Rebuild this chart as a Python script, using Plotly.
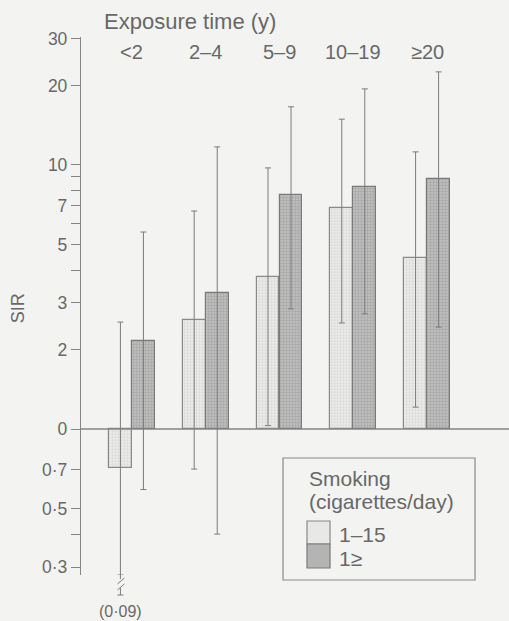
import math
import plotly.graph_objects as go

# ---------------- data ----------------
categories = ["<2", "2–4", "5–9", "10–19", "≥20"]
series_names = ["1–15", "1≥"]

sir_light = [0.71, 2.59, 3.77, 6.87, 4.44]
upper_light = [2.54, 6.69, 9.74, 14.9, 11.2]
lower_light = [0.09, 0.705, 1.03, 2.52, 1.21]

sir_dark = [2.15, 3.27, 7.7, 8.26, 8.85]
upper_dark = [5.57, 11.7, 16.6, 19.4, 22.5]
lower_dark = [0.59, 0.40, 2.85, 2.73, 2.43]

ytick_vals = [0.3, 0.4, 0.5, 0.7, 1, 2, 3, 4, 5, 6, 7, 8, 9, 10, 20, 30]
ytick_text = ["0·3", "", "0·5", "0·7", "0", "2", "3", "", "5", "", "7", "", "", "10", "20", "30"]

# ---------------- styling ----------------
BG = "#f3f3f1"
TXT = "#686868"
AX = "#858585"
FONT = "Liberation Sans, Arial, sans-serif"
Y_MIN, Y_MAX = 0.28, 30.5
X_MIN, X_MAX = -0.69, 5.11
OFF = 0.156
BW = 0.31

n = len(categories)
x_light = [i - OFF for i in range(n)]
x_dark = [i + OFF for i in range(n)]

light_fill = dict(color="#e6e6e4", line=dict(color="#8a8a8a", width=1.2),
                  pattern=dict(shape=".", fgcolor="#c9c9c7", bgcolor="#ececea", size=3, solidity=0.45))
dark_fill = dict(color="#b0b0b0", line=dict(color="#7a7a7a", width=1.2),
                 pattern=dict(shape=".", fgcolor="#8e8e8e", bgcolor="#c2c2c2", size=3, solidity=0.5))

fig = go.Figure()

# baseline at SIR = 1
fig.add_trace(go.Scatter(x=[X_MIN, X_MAX], y=[1, 1], mode="lines",
                         line=dict(color=AX, width=1.3), hoverinfo="skip", showlegend=False))

fig.add_trace(go.Bar(x=x_light, y=[v - 1 for v in sir_light], base=1, width=BW,
                     marker=light_fill, name=series_names[0], showlegend=False))
fig.add_trace(go.Bar(x=x_dark, y=[v - 1 for v in sir_dark], base=1, width=BW,
                     marker=dark_fill, name=series_names[1], showlegend=False))


def err_trace(xs, vals, ups, lows):
    lows_disp = [max(lo, Y_MIN) for lo in lows]
    return go.Scatter(
        x=xs, y=vals, mode="markers",
        marker=dict(size=1, color="rgba(0,0,0,0)"),
        error_y=dict(type="data", symmetric=False,
                     array=[u - v for u, v in zip(ups, vals)],
                     arrayminus=[v - lo for v, lo in zip(vals, lows_disp)],
                     color="#7c7c7c", thickness=1, width=3),
        hoverinfo="skip", showlegend=False, cliponaxis=True)


fig.add_trace(err_trace(x_light, sir_light, upper_light, lower_light))
fig.add_trace(err_trace(x_dark, sir_dark, upper_dark, lower_dark))

shapes = []
annotations = []

# broken error bar tail below the axis (values under the axis minimum)
for xs, lows in ((x_light, lower_light), (x_dark, lower_dark)):
    for xv, lo in zip(xs, lows):
        if lo < Y_MIN:
            common = dict(type="line", xref="x", yref="paper", xsizemode="pixel", ysizemode="pixel",
                          xanchor=xv, yanchor=0, line=dict(color="#7c7c7c", width=1))
            shapes.append(dict(common, x0=0, x1=0, y0=0, y1=-4))
            shapes.append(dict(common, x0=-3, x1=4, y0=-9, y1=-3))
            shapes.append(dict(common, x0=-3, x1=4, y0=-15, y1=-9))
            shapes.append(dict(common, x0=0, x1=0, y0=-13, y1=-20))
            shapes.append(dict(common, x0=-3, x1=3, y0=-20, y1=-20))
            annotations.append(dict(x=xv, xref="x", y=-0.068, yref="paper",
                                    text="(" + f"{lo:.2f}".replace(".", "·") + ")",
                                    showarrow=False, font=dict(size=16, color=TXT, family=FONT),
                                    xanchor="center", yanchor="middle"))

# category labels along the top
for i, c in enumerate(categories):
    annotations.append(dict(x=i, xref="x", y=0.972, yref="paper", text=c, showarrow=False,
                            font=dict(size=20, color=TXT, family=FONT), xanchor="center", yanchor="middle"))

annotations.append(dict(x=0.255, xref="paper", y=1.028, yref="paper", text="Exposure time (y)",
                        showarrow=False, font=dict(size=22, color=TXT, family=FONT),
                        xanchor="center", yanchor="middle"))
annotations.append(dict(x=-0.147, xref="paper", y=0.496, yref="paper", text="SIR", textangle=-90,
                        showarrow=False, font=dict(size=18, color=TXT, family=FONT),
                        xanchor="center", yanchor="middle"))

# legend (drawn by hand to mimic the boxed key)
shapes.append(dict(type="rect", xref="paper", yref="paper", x0=0.472, x1=0.9206, y0=-0.0093, y1=0.2175,
                   line=dict(color="#8a8a8a", width=1.2), fillcolor=BG, layer="above"))
shapes.append(dict(type="rect", xref="paper", yref="paper", x0=0.528, x1=0.5818, y0=0.0576, y1=0.1004,
                   line=dict(color="#8a8a8a", width=1.2), fillcolor="#e8e8e6", layer="above"))
shapes.append(dict(type="rect", xref="paper", yref="paper", x0=0.528, x1=0.5818, y0=0.0130, y1=0.0576,
                   line=dict(color="#7a7a7a", width=1.2), fillcolor="#b4b4b4", layer="above"))
leg_font = dict(size=21, color=TXT, family=FONT)
annotations.append(dict(x=0.528, xref="paper", y=0.1785, yref="paper", text="Smoking",
                        showarrow=False, font=leg_font, xanchor="left", yanchor="middle"))
annotations.append(dict(x=0.528, xref="paper", y=0.137, yref="paper", text="(cigarettes/day)",
                        showarrow=False, font=leg_font, xanchor="left", yanchor="middle"))
annotations.append(dict(x=0.598, xref="paper", y=0.076, yref="paper", text=series_names[0],
                        showarrow=False, font=leg_font, xanchor="left", yanchor="middle"))
annotations.append(dict(x=0.598, xref="paper", y=0.031, yref="paper", text=series_names[1],
                        showarrow=False, font=leg_font, xanchor="left", yanchor="middle"))

fig.update_layout(
    width=509, height=621,
    margin=dict(l=81, r=0, t=37, b=46),
    paper_bgcolor=BG, plot_bgcolor=BG,
    barmode="overlay", bargap=0,
    showlegend=False,
    font=dict(family=FONT, color=TXT),
    xaxis=dict(range=[X_MIN, X_MAX], visible=False, fixedrange=True),
    yaxis=dict(type="log", range=[math.log10(Y_MIN), math.log10(Y_MAX)],
               tickvals=ytick_vals, ticktext=ytick_text, ticks="outside", ticklen=9,
               tickcolor=AX, tickwidth=1.2, showline=True, linecolor=AX, linewidth=1.3,
               showgrid=False, zeroline=False, tickfont=dict(size=17.5, color=TXT, family=FONT),
               fixedrange=True),
    shapes=shapes,
    annotations=annotations,
)

fig.write_html("out.html", config={"displayModeBar": False},
               post_script="document.body.style.margin='0';document.body.style.overflow='hidden';")
